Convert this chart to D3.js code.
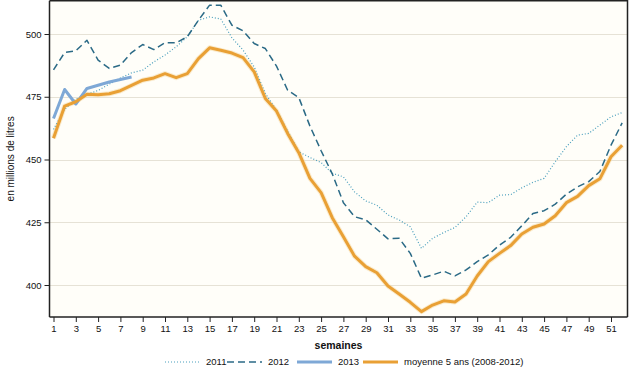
<!DOCTYPE html>
<html>
<head>
<meta charset="utf-8">
<script src="https://cdn.jsdelivr.net/npm/d3@7"></script>
<style>
  body { margin: 0; background: #fff; }
  svg { display: block; font-family: "Liberation Sans", Arial, sans-serif; }
</style>
</head>
<body>
<div id="chart"></div>
<script>
// weeks 1..52
var weeks = d3.range(1, 53);

var y2011 = [462, 470, 474, 476, 477.5, 480, 482.5, 484.5, 485.6, 488.9, 491.6, 494.9, 498.9,
  505.5, 506.8, 506, 498.5, 493.6, 486.9, 476.3, 469.7, 461.3, 453.1, 450.8, 448.8, 444.5,
  443.1, 437.1, 433.5, 431.8, 427.9, 425.9, 423.2, 414.6, 418.6, 420.9, 422.9, 427.2, 433,
  432.8, 435.8, 436, 438.7, 440.9, 442.5, 449.1, 455.1, 459.7, 460.4, 463.7, 467, 468.7];

var y2012 = [485.7, 492.6, 493.3, 497.5, 489.6, 486.3, 487.6, 492.6, 495.8, 493.8, 496.5, 496.5, 498.9,
  505.5, 511.5, 511.5, 503.5, 501.3, 496.2, 494.2, 487.2, 477.6, 474.7, 463.3, 453.5, 444.3,
  432.8, 427.2, 426, 422.2, 418.4, 418.6, 412.6, 402.7, 404, 405.5, 403.6, 406, 409.3,
  412, 415.9, 419, 423.6, 428.5, 429.6, 432.2, 436.2, 439.1, 441.2, 445.2, 455.7, 464.6];

var y2013 = [466.3, 477.9, 472.1, 478.3, 479.6, 480.9, 481.9, 482.9];

var yMoy = [458.5, 471.3, 473, 476, 475.8, 476.2, 477.4, 479.5, 481.6, 482.5, 484.2, 482.6, 484.2,
  490.2, 494.5, 493.5, 492.4, 490.6, 484.9, 474.3, 469.3, 460.4, 452.7, 442.5, 436.8, 426.8,
  419.2, 411.5, 407.3, 404.9, 399.6, 396.4, 393.1, 389.4, 392, 393.7, 393.2, 396.4, 403.6,
  409.3, 412.6, 415.7, 420.3, 423, 424.3, 427.6, 432.8, 435.3, 439.6, 442.3, 451.1, 455.7];

var yTicks = [400, 425, 450, 475, 500];
var xTicks = d3.range(1, 52, 2);

var series = [
  {name: "2011", values: y2011, color: "#4a9fbd", width: 1.2, dash: "1,2"},
  {name: "2012", values: y2012, color: "#2b6a86", width: 1.5, dash: "7,4"},
  {name: "2013", values: y2013, color: "#7ea8d6", width: 3, dash: null},
  {name: "moyenne 5 ans (2008-2012)", values: yMoy, color: "#e9a035", width: 3, dash: null}
];

var W = 629, H = 369;
var plotL = 49.5, plotR = 627.5, plotT = 0.75, plotB = 317;

var svg = d3.select("#chart").append("svg")
  .attr("width", W)
  .attr("height", H);

var x = d3.scaleLinear().domain([1, 51]).range([53.5, 611]);
var y = d3.scaleLinear().domain([400, 500]).range([285, 34]);

// plot background
svg.append("rect")
  .attr("x", plotL).attr("y", plotT)
  .attr("width", plotR - plotL).attr("height", plotB - plotT)
  .attr("fill", "#fffef9");

// gridlines
svg.append("g").selectAll("line")
  .data(yTicks)
  .enter().append("line")
    .attr("x1", plotL).attr("x2", plotR)
    .attr("y1", function(d) { return Math.round(y(d)) + 0.5; })
    .attr("y2", function(d) { return Math.round(y(d)) + 0.5; })
    .attr("stroke", "#e6e2d6")
    .attr("stroke-width", 1);

// frame top + right
svg.append("path")
  .attr("d", "M" + plotL + "," + plotT + "H" + plotR + "V" + plotB)
  .attr("fill", "none")
  .attr("stroke", "#222")
  .attr("stroke-width", 1.5);

// axes
var yAxis = svg.append("g")
  .attr("transform", "translate(" + plotL + ",0)")
  .call(d3.axisLeft(y).tickValues(yTicks).tickSize(5).tickPadding(3));

var xAxis = svg.append("g")
  .attr("transform", "translate(0," + plotB + ")")
  .call(d3.axisBottom(x).tickValues(xTicks).tickSize(5).tickPadding(3));

[yAxis, xAxis].forEach(function(a) {
  a.select(".domain").remove();
  a.selectAll("line").attr("stroke", "#222");
  a.selectAll("text")
    .attr("fill", "#111")
    .style("font-size", "9.5px")
    .style("font-family", "Liberation Sans, Arial, sans-serif");
});

svg.append("line")
  .attr("x1", plotL).attr("x2", plotL).attr("y1", plotT).attr("y2", plotB)
  .attr("stroke", "#222").attr("stroke-width", 1.5);
svg.append("line")
  .attr("x1", plotL).attr("x2", plotR).attr("y1", plotB).attr("y2", plotB)
  .attr("stroke", "#222").attr("stroke-width", 1.5);

// lines
var line = d3.line()
  .x(function(d, i) { return x(weeks[i]); })
  .y(function(d) { return y(d); });

// soft halo under the average line
svg.append("path")
  .datum(yMoy)
  .attr("d", line)
  .attr("fill", "none")
  .attr("stroke", "#f6d9a4")
  .attr("stroke-width", 5)
  .attr("stroke-linejoin", "round")
  .attr("opacity", 0.5);

series.forEach(function(s) {
  svg.append("path")
    .datum(s.values)
    .attr("d", line)
    .attr("fill", "none")
    .attr("stroke", s.color)
    .attr("stroke-width", s.width)
    .attr("stroke-linejoin", "round")
    .attr("stroke-dasharray", s.dash);
});

// axis titles
svg.append("text")
  .attr("transform", "translate(14," + ((plotT + plotB) / 2) + ") rotate(-90)")
  .attr("text-anchor", "middle")
  .style("font-size", "10px")
  .attr("fill", "#111")
  .text("en millions de litres");

svg.append("text")
  .attr("x", (plotL + plotR) / 2)
  .attr("y", 349)
  .attr("text-anchor", "middle")
  .style("font-size", "10.5px")
  .style("font-weight", "bold")
  .attr("fill", "#111")
  .text("semaines");

// legend
var legendX = [165, 227, 297, 363];
series.forEach(function(s, i) {
  var lx = legendX[i];
  svg.append("line")
    .attr("x1", lx).attr("x2", lx + 35)
    .attr("y1", 362).attr("y2", 362)
    .attr("stroke", s.color)
    .attr("stroke-width", s.width)
    .attr("stroke-dasharray", s.dash);
  svg.append("text")
    .attr("x", lx + 41)
    .attr("y", 365)
    .style("font-size", "9.5px")
    .attr("fill", "#111")
    .text(s.name);
});
</script>
</body>
</html>
